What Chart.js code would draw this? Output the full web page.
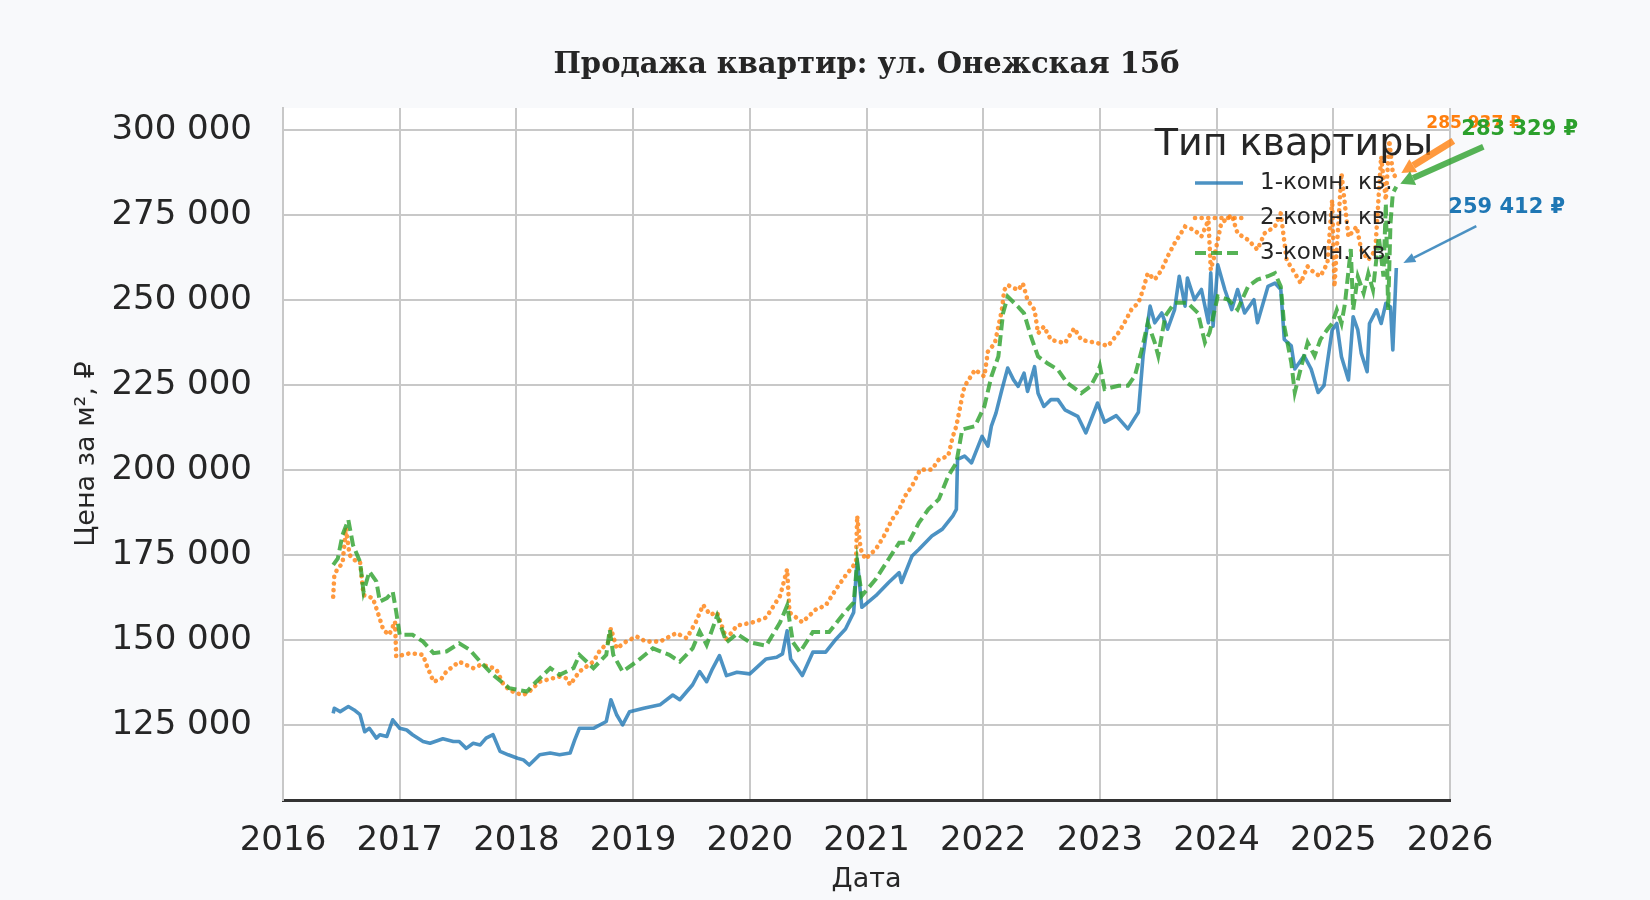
<!DOCTYPE html>
<html lang="ru">
<head>
<meta charset="utf-8">
<title>Продажа квартир: ул. Онежская 15б</title>
<script src="https://cdn.jsdelivr.net/npm/chart.js@4.4.1/dist/chart.umd.min.js"></script>
<style>
  html, body { margin: 0; padding: 0; background: #f8f9fb; }
  canvas { display: block; }
</style>
</head>
<body>
<canvas id="chart" width="1650" height="900"></canvas>
<script>
'use strict';

// 1-комн. кв.
let dates1 = [2016.43, 2016.44, 2016.49, 2016.56, 2016.61, 2016.66, 2016.70, 2016.74, 2016.80, 2016.83,
    2016.89, 2016.94, 2017.00, 2017.06, 2017.11, 2017.20, 2017.26, 2017.37, 2017.46, 2017.51,
    2017.57, 2017.63, 2017.69, 2017.74, 2017.80, 2017.86, 2017.93, 2018.01, 2018.06, 2018.11,
    2018.20, 2018.29, 2018.37, 2018.46, 2018.50, 2018.54, 2018.66, 2018.77, 2018.81, 2018.86,
    2018.91, 2018.97, 2019.09, 2019.23, 2019.34, 2019.40, 2019.51, 2019.57, 2019.63, 2019.68,
    2019.74, 2019.80, 2019.89, 2020.00, 2020.14, 2020.23, 2020.28, 2020.32, 2020.35, 2020.41,
    2020.45, 2020.54, 2020.65, 2020.74, 2020.82, 2020.89, 2020.92, 2020.96, 2021.08, 2021.19,
    2021.28, 2021.30, 2021.39, 2021.45, 2021.56, 2021.65, 2021.74, 2021.77, 2021.78, 2021.84,
    2021.90, 2021.99, 2022.04, 2022.07, 2022.11, 2022.16, 2022.21, 2022.26, 2022.30, 2022.35,
    2022.38, 2022.44, 2022.47, 2022.52, 2022.58, 2022.64, 2022.70, 2022.81, 2022.88, 2022.98,
    2023.04, 2023.14, 2023.24, 2023.33, 2023.37, 2023.43, 2023.47, 2023.53, 2023.58, 2023.64,
    2023.68, 2023.73, 2023.75, 2023.81, 2023.87, 2023.93, 2023.95, 2023.97, 2024.01, 2024.07,
    2024.13, 2024.18, 2024.24, 2024.32, 2024.35, 2024.44, 2024.50, 2024.55, 2024.58, 2024.64,
    2024.67, 2024.75, 2024.81, 2024.87, 2024.92, 2024.99, 2025.03, 2025.07, 2025.13, 2025.17,
    2025.21, 2025.24, 2025.29, 2025.31, 2025.37, 2025.41, 2025.45, 2025.49, 2025.51, 2025.54];
let prices1 = [128400, 129900, 128900, 130400, 129400, 128000, 123000, 124000, 121100, 122100,
    121600, 126500, 124000, 123500, 122100, 120100, 119600, 120900, 120100, 120100,
    118100, 119600, 119100, 121100, 122100, 117200, 116200, 115200, 114700, 113200,
    116200, 116700, 116200, 116700, 120600, 124000, 124000, 126000, 132400, 127900,
    125000, 128900, 129900, 130900, 133800, 132400, 136800, 140700, 137700, 141500,
    145400, 139500, 140500, 140000, 144400, 144900, 145900, 152700, 144400, 141500,
    139500, 146400, 146400, 150300, 153200, 158100, 173800, 159600, 163000, 166900,
    169800, 166900, 174700, 176700, 180600, 182600, 186500, 188400, 203100, 204100,
    202100, 209900, 207000, 212900, 216800, 223600, 230000, 226500, 224600, 228500,
    223100, 230400, 222600, 218700, 220700, 220700, 217700, 215800, 210900, 219700,
    214100, 216000, 212100, 217000, 233600, 248200, 243300, 246200, 241400, 247200,
    257000, 248200, 256500, 250100, 253100, 243300, 258000, 242300, 260400, 253100,
    247200, 253100, 246200, 250100, 243300, 254000, 255000, 253100, 238400, 236500,
    229700, 233600, 229700, 222800, 224800, 241200, 243100, 233300, 226500, 245100,
    241200, 234300, 228900, 243100, 247100, 243100, 249000, 248000, 235300, 259412];

// 2-комн. кв.
let dates2 = [2016.43, 2016.44, 2016.47, 2016.51, 2016.54, 2016.57, 2016.61, 2016.66, 2016.69, 2016.77,
    2016.81, 2016.86, 2016.91, 2016.96, 2016.97, 2017.09, 2017.20, 2017.23, 2017.29, 2017.36,
    2017.40, 2017.51, 2017.57, 2017.63, 2017.69, 2017.77, 2017.83, 2017.89, 2017.94, 2018.00,
    2018.06, 2018.11, 2018.20, 2018.31, 2018.37, 2018.43, 2018.46, 2018.54, 2018.66, 2018.71,
    2018.79, 2018.81, 2018.86, 2018.94, 2019.03, 2019.11, 2019.23, 2019.37, 2019.46, 2019.54,
    2019.60, 2019.66, 2019.72, 2019.80, 2019.89, 2020.03, 2020.14, 2020.26, 2020.32, 2020.34,
    2020.45, 2020.57, 2020.65, 2020.74, 2020.82, 2020.91, 2020.92, 2020.95, 2020.99, 2021.08,
    2021.15, 2021.22, 2021.28, 2021.33, 2021.39, 2021.46, 2021.56, 2021.62, 2021.70, 2021.74,
    2021.77, 2021.82, 2021.84, 2021.93, 2022.01, 2022.04, 2022.10, 2022.16, 2022.18, 2022.21,
    2022.30, 2022.34, 2022.38, 2022.44, 2022.47, 2022.52, 2022.58, 2022.70, 2022.78, 2022.84,
    2022.98, 2023.07, 2023.16, 2023.21, 2023.27, 2023.33, 2023.37, 2023.41, 2023.47, 2023.53,
    2023.58, 2023.64, 2023.73, 2023.81, 2023.87, 2023.93, 2023.95, 2023.98, 2024.04, 2024.13,
    2024.18, 2024.27, 2024.35, 2024.41, 2024.50, 2024.55, 2024.60, 2024.67, 2024.72, 2024.78,
    2024.84, 2024.89, 2024.95, 2024.99, 2025.01, 2025.07, 2025.13, 2025.20, 2025.24, 2025.30,
    2025.36, 2025.41, 2025.45, 2025.48, 2025.51, 2025.54];
let prices2 = [162700, 169100, 171100, 172500, 182800, 175000, 173500, 173000, 163200, 162300,
    158300, 152900, 151500, 155400, 145100, 146100, 145600, 142600, 137700, 138700,
    140700, 143600, 142600, 141700, 142600, 142200, 141200, 136800, 135300, 134300,
    133800, 134800, 137700, 138700, 139200, 138700, 136800, 140700, 143600, 146600,
    149500, 153400, 147500, 149500, 151000, 149500, 149500, 152000, 150500, 155400,
    160300, 157400, 158100, 150300, 154200, 155200, 156600, 163000, 170800, 158100,
    155200, 159100, 160100, 165000, 168900, 172800, 186500, 176700, 173800, 176700,
    180600, 185500, 188400, 192300, 195300, 200100, 200100, 203100, 204100, 209900,
    212900, 221600, 224600, 229500, 227500, 234800, 237300, 247100, 252900, 254400,
    252900, 254900, 250000, 247100, 240200, 242200, 238300, 237300, 241700, 238300,
    237300, 236500, 240400, 243300, 247200, 249200, 253100, 257900, 256000, 258900,
    262800, 266700, 271600, 270600, 268700, 273500, 258900, 262800, 272600, 275000,
    269600, 267700, 264800, 269600, 271600, 275500, 261800, 257900, 255000, 259900,
    257900, 257000, 260900, 279400, 253900, 287300, 268600, 271600, 264700, 261800,
    264700, 292200, 279400, 297000, 287300, 285937];

// 3-комн. кв.
let dates3 = [2016.43, 2016.47, 2016.51, 2016.56, 2016.60, 2016.66, 2016.69, 2016.74, 2016.80, 2016.83,
    2016.89, 2016.94, 2016.97, 2017.00, 2017.11, 2017.20, 2017.29, 2017.40, 2017.51, 2017.60,
    2017.69, 2017.80, 2017.94, 2018.09, 2018.17, 2018.29, 2018.37, 2018.49, 2018.54, 2018.66,
    2018.77, 2018.80, 2018.83, 2018.91, 2019.03, 2019.17, 2019.31, 2019.40, 2019.51, 2019.57,
    2019.63, 2019.72, 2019.80, 2019.89, 2020.00, 2020.14, 2020.26, 2020.32, 2020.37, 2020.43,
    2020.54, 2020.68, 2020.79, 2020.89, 2020.92, 2020.96, 2021.08, 2021.19, 2021.28, 2021.36,
    2021.45, 2021.53, 2021.62, 2021.70, 2021.77, 2021.82, 2021.93, 2022.01, 2022.07, 2022.13,
    2022.17, 2022.21, 2022.30, 2022.35, 2022.41, 2022.47, 2022.55, 2022.64, 2022.72, 2022.84,
    2022.92, 2022.98, 2023.00, 2023.04, 2023.16, 2023.24, 2023.30, 2023.36, 2023.41, 2023.47,
    2023.50, 2023.56, 2023.64, 2023.75, 2023.84, 2023.90, 2023.94, 2024.01, 2024.10, 2024.18,
    2024.27, 2024.35, 2024.44, 2024.50, 2024.55, 2024.58, 2024.64, 2024.67, 2024.72, 2024.78,
    2024.84, 2024.89, 2024.95, 2024.99, 2025.03, 2025.07, 2025.10, 2025.15, 2025.17, 2025.21,
    2025.26, 2025.30, 2025.34, 2025.39, 2025.43, 2025.45, 2025.47, 2025.49, 2025.51, 2025.54];
let prices3 = [172100, 174000, 180900, 185300, 177900, 173000, 164200, 170100, 167200, 161300,
    162300, 164200, 158300, 151500, 151500, 149500, 146100, 146600, 149000, 147100,
    143600, 139700, 135800, 134800, 137700, 141700, 139700, 141700, 145600, 141700,
    145600, 153000, 145600, 140700, 143600, 147500, 145600, 143600, 147500, 152500,
    148500, 157100, 149300, 151800, 149300, 148300, 155200, 160100, 149300, 146400,
    152300, 152300, 157100, 161000, 172800, 163000, 167900, 173800, 178600, 178600,
    184500, 188400, 191400, 198200, 202100, 211900, 212900, 218700, 227500, 233400,
    246100, 251000, 248000, 246100, 239200, 233400, 231400, 229500, 225600, 222600,
    224600, 228500, 230600, 223800, 224800, 224800, 227700, 235500, 243300, 237500,
    233600, 245300, 249200, 249200, 246200, 237500, 240400, 251100, 250100, 247200,
    254000, 256000, 257000, 257900, 254000, 242300, 231600, 222800, 229700, 237500,
    233600, 238400, 241400, 243100, 247100, 243100, 249000, 265000, 247100, 256900,
    252000, 257800, 253000, 268600, 256900, 278400, 247100, 272500, 281400, 283329];

let seriesNames = ['1-комн. кв.', '2-комн. кв.', '3-комн. кв.'];
let endLabels = ['259 412 ₽', '285 937 ₽', '283 329 ₽'];
let yearTicks = [2016, 2017, 2018, 2019, 2020, 2021, 2022, 2023, 2024, 2025, 2026];
let priceTicks = [125000, 150000, 175000, 200000, 225000, 250000, 275000, 300000];

let textColor = '#262626';
let gridColor = '#c8c8c8';

function toPoints(dates, prices) {
    let points = [];
    for (let i = 0; i < dates.length; i++) {
        points.push({ x: dates[i], y: prices[i] });
    }
    return points;
}

function formatPrice(value) {
    return String(value).replace(/\B(?=(\d{3})+(?!\d))/g, ' ');
}

function drawArrow(ctx, x1, y1, x2, y2, width, headLen, headWidth, color) {
    let ang = Math.atan2(y2 - y1, x2 - x1);
    let bx = x2 - headLen * Math.cos(ang);
    let by = y2 - headLen * Math.sin(ang);
    ctx.strokeStyle = color;
    ctx.fillStyle = color;
    ctx.lineWidth = width;
    ctx.lineCap = 'butt';
    ctx.setLineDash([]);
    ctx.beginPath();
    ctx.moveTo(x1, y1);
    ctx.lineTo(bx, by);
    ctx.stroke();
    ctx.beginPath();
    ctx.moveTo(x2, y2);
    ctx.lineTo(bx + headWidth / 2 * Math.sin(ang), by - headWidth / 2 * Math.cos(ang));
    ctx.lineTo(bx - headWidth / 2 * Math.sin(ang), by + headWidth / 2 * Math.cos(ang));
    ctx.closePath();
    ctx.fill();
}

// background, titles, legend and end labels
let decorPlugin = {
    id: 'decor',
    beforeDraw(chart) {
        let ctx = chart.ctx;
        let area = chart.chartArea;
        ctx.save();
        ctx.fillStyle = '#f8f9fb';
        ctx.fillRect(0, 0, chart.width, chart.height);
        ctx.fillStyle = '#ffffff';
        ctx.fillRect(area.left, area.top, area.right - area.left, area.bottom - area.top);
        ctx.restore();
    },
    afterDraw(chart) {
        let ctx = chart.ctx;
        let area = chart.chartArea;
        let midX = (area.left + area.right) / 2;
        ctx.save();

        ctx.fillStyle = textColor;
        ctx.textAlign = 'center';
        ctx.textBaseline = 'alphabetic';
        ctx.font = 'bold 29px "DejaVu Serif"';
        ctx.fillText('Продажа квартир: ул. Онежская 15б', midX, 73);

        ctx.font = '27px "DejaVu Sans"';
        ctx.textBaseline = 'middle';
        ctx.fillText('Дата', midX, 880);
        ctx.save();
        ctx.translate(87, (area.top + area.bottom) / 2);
        ctx.rotate(-Math.PI / 2);
        ctx.fillText('Цена за м², ₽', 0, 0);
        ctx.restore();

        // legend
        ctx.font = '38px "DejaVu Sans"';
        ctx.textBaseline = 'alphabetic';
        ctx.fillText('Тип квартиры', area.right - 156, area.top + 47);
        ctx.font = '23px "DejaVu Sans"';
        ctx.textAlign = 'left';
        ctx.textBaseline = 'middle';
        chart.data.datasets.forEach(function (ds, i) {
            let y = area.top + 75 + i * 35;
            ctx.strokeStyle = ds.borderColor;
            ctx.lineWidth = ds.borderWidth;
            ctx.lineCap = ds.borderCapStyle || 'butt';
            ctx.setLineDash(ds.borderDash || []);
            ctx.beginPath();
            ctx.moveTo(area.right - 255, y);
            ctx.lineTo(area.right - 207, y);
            ctx.stroke();
            ctx.fillStyle = textColor;
            ctx.fillText(ds.label, area.right - 190, y);
        });

        // end-of-series labels with arrows
        let spots = [
            { text: [52, -55], tail: [80, -42], tip: [7, -5], size: 21, lw: 2.5, hl: 12, hw: 10 },
            { text: [30, -50], tail: [57, -37], tip: [5, -5], size: 17, lw: 7, hl: 14, hw: 15 },
            { text: [65, -52], tail: [87, -40], tip: [4, -3], size: 21, lw: 6, hl: 14, hw: 15 }
        ];
        let solid = ['#1f77b4', '#ff7f0e', '#2ca02c'];
        [0, 1, 2].forEach(function (i) {
            let meta = chart.getDatasetMeta(i);
            let last = meta.data[meta.data.length - 1];
            let s = spots[i];
            drawArrow(ctx, last.x + s.tail[0], last.y + s.tail[1], last.x + s.tip[0], last.y + s.tip[1],
                s.lw, s.hl, s.hw, chart.data.datasets[i].borderColor);
            ctx.fillStyle = solid[i];
            ctx.font = 'bold ' + s.size + 'px "DejaVu Sans"';
            ctx.textAlign = 'left';
            ctx.textBaseline = 'alphabetic';
            ctx.fillText(endLabels[i], last.x + s.text[0], last.y + s.text[1]);
        });

        ctx.restore();
    }
};

let ctx = document.getElementById('chart').getContext('2d');
let myChart = new Chart(ctx, {
    type: 'line',
    data: {
        datasets: [{
            label: seriesNames[0],
            data: toPoints(dates1, prices1),
            borderColor: 'rgba(31, 119, 180, 0.8)',
            borderWidth: 3.6,
            borderJoinStyle: 'round',
            order: 2
        }, {
            label: seriesNames[1],
            data: toPoints(dates2, prices2),
            borderColor: 'rgba(255, 127, 14, 0.8)',
            borderWidth: 4.6,
            borderDash: [0.1, 6.5],
            borderCapStyle: 'round',
            order: 1
        }, {
            label: seriesNames[2],
            data: toPoints(dates3, prices3),
            borderColor: 'rgba(44, 160, 44, 0.8)',
            borderWidth: 4,
            borderDash: [11, 5],
            order: 0
        }]
    },
    options: {
        responsive: false,
        maintainAspectRatio: false,
        devicePixelRatio: 1,
        animation: false,
        elements: {
            point: { radius: 0, hoverRadius: 0 },
            line: { tension: 0, fill: false }
        },
        layout: {
            padding: { left: 0, right: 200, top: 108, bottom: 0 }
        },
        scales: {
            x: {
                type: 'linear',
                min: 2016,
                max: 2026,
                afterFit: function (scale) { scale.height = 100; },
                afterBuildTicks: function (scale) {
                    scale.ticks = yearTicks.map(function (v) { return { value: v }; });
                },
                ticks: {
                    color: textColor,
                    font: { family: 'DejaVu Sans', size: 34 },
                    padding: 21,
                    maxRotation: 0,
                    callback: function (value) { return String(value); }
                },
                grid: { color: gridColor, lineWidth: 2, drawTicks: false },
                border: { color: '#333333', width: 3 }
            },
            y: {
                type: 'linear',
                min: 102900,
                max: 306500,
                afterFit: function (scale) { scale.width = 283; },
                afterBuildTicks: function (scale) {
                    scale.ticks = priceTicks.map(function (v) { return { value: v }; });
                },
                ticks: {
                    color: textColor,
                    font: { family: 'DejaVu Sans', size: 34 },
                    padding: 31,
                    callback: function (value) { return formatPrice(value); }
                },
                grid: { color: gridColor, lineWidth: 2, drawTicks: false },
                border: { color: gridColor, width: 2 }
            }
        },
        plugins: {
            legend: { display: false },
            tooltip: { enabled: false },
            title: { display: false }
        }
    },
    plugins: [decorPlugin]
});
</script>
</body>
</html>
